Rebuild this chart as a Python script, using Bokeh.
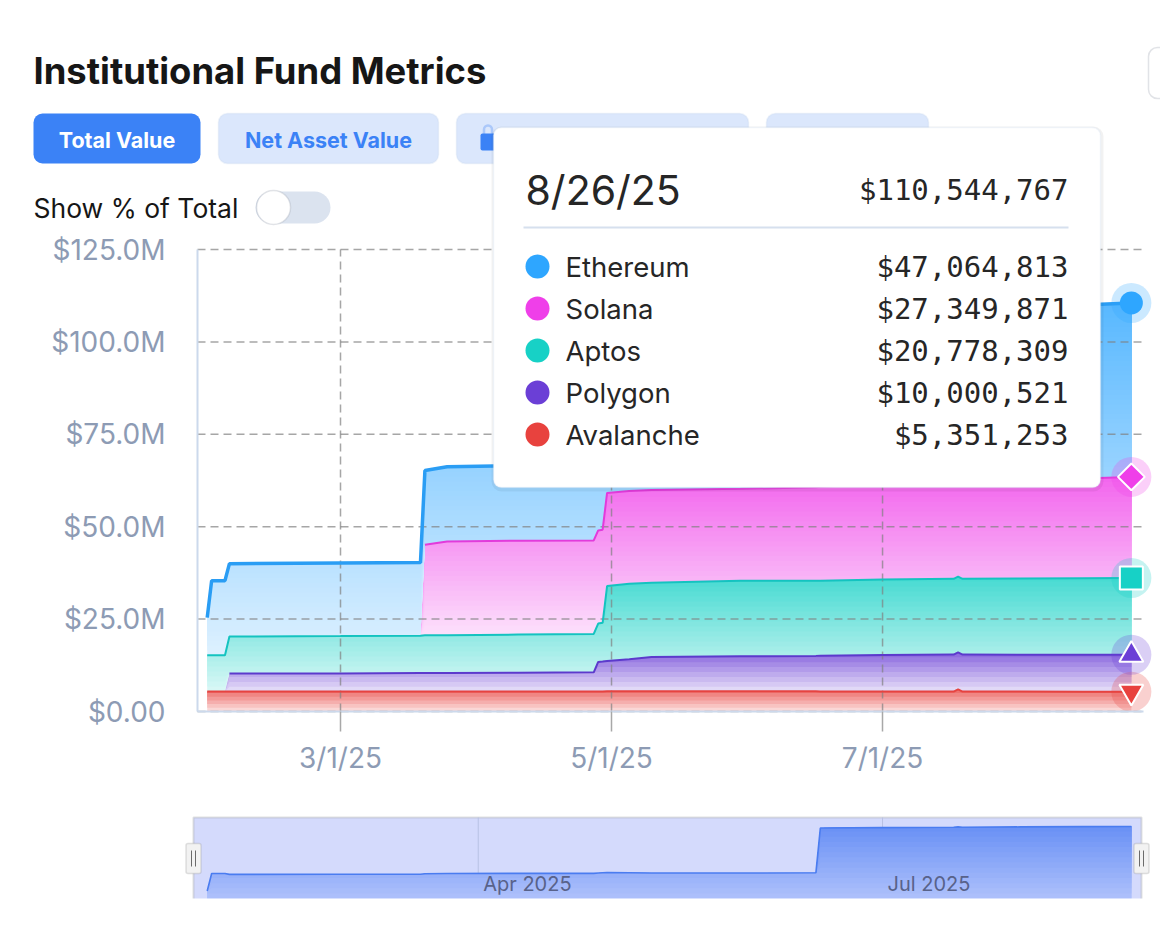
import numpy as np
import pandas as pd
from bokeh.plotting import figure
from bokeh.models import (ColumnDataSource, Range1d, FixedTicker, BoxAnnotation, Label, LabelSet,
                          LinearAxis, DatetimeAxis)
from bokeh.embed import file_html
from bokeh.resources import INLINE
from bokeh.core.properties import value

# ---------------- data (USD millions; None = series not yet present) ----------------
dates = ["2025-01-30", "2025-01-31", "2025-02-03", "2025-02-04", "2025-03-01",
         "2025-03-19", "2025-03-20", "2025-03-25", "2025-04-10", "2025-04-27",
         "2025-04-28", "2025-04-29", "2025-04-30", "2025-05-05", "2025-05-10",
         "2025-05-30", "2025-06-16", "2025-06-17", "2025-07-01", "2025-07-17",
         "2025-07-18", "2025-07-19", "2025-08-01", "2025-08-15", "2025-08-26"]
ethereum = [10.2, 20.2, 20.2, 19.7, 19.8, 19.8, 20.1, 20.2, 20.3, 20.3,
            20.5, 20.6, 20.7, 20.6, 20.5, 20.5, 20.6, 46.2, 46.4, 46.6,
            46.8, 46.6, 46.8, 46.95, 47.064813]
solana = [None, None, None, None, None, None, 24.5, 25.4, 25.4, 25.3,
          25.2, 25.2, 25.2, 25.1, 25.1, 24.9, 25.3, 25.4, 25.9, 26.2,
          26.2, 26.2, 26.6, 27.0, 27.349871]
aptos = [9.8, 9.8, 9.8, 10.0, 10.1, 10.1, 10.2, 10.2, 10.3, 10.4,
         10.4, 10.5, 20.3, 20.4, 20.1, 20.4, 20.3, 20.3, 20.4, 20.5,
         20.5, 20.5, 20.6, 20.7, 20.778309]
polygon = [None, None, None, 4.9, 4.9, 5.0, 5.0, 5.0, 5.1, 5.2,
           8.0, 8.1, 8.2, 8.7, 9.3, 9.5, 9.6, 9.7, 9.9, 10.0,
           10.0, 10.0, 10.0, 10.0, 10.000521]
avalanche = [5.4, 5.4, 5.4, 5.4, 5.4, 5.4, 5.4, 5.4, 5.4, 5.4,
             5.4, 5.4, 5.45, 5.45, 5.45, 5.45, 5.45, 5.4, 5.4, 5.4,
             6.0, 5.4, 5.38, 5.36, 5.351253]

series_names = ["Ethereum", "Solana", "Aptos", "Polygon", "Avalanche"]
series_values = [ethereum, solana, aptos, polygon, avalanche]
series_colors = ["#2ea6ff", "#ef3fe9", "#17d1c6", "#6b3fd6", "#e8423e"]
line_colors = ["#2a9df4", "#e23bdb", "#14c3c0", "#5c3acc", "#e64340"]
marker_types = ["circle", "diamond", "square", "triangle", "inverted_triangle"]

y_tick_values = [0, 25e6, 50e6, 75e6, 100e6, 125e6]
y_tick_labels = ["$0.00", "$25.0M", "$50.0M", "$75.0M", "$100.0M", "$125.0M"]
x_tick_dates = ["2025-03-01", "2025-05-01", "2025-07-01"]
x_tick_labels = ["3/1/25", "5/1/25", "7/1/25"]
nav_tick_dates = ["2025-04-01", "2025-07-01"]
nav_tick_labels = ["Apr 2025", "Jul 2025"]

# ---------------- helpers ----------------
def to_ms(s):
    return pd.Timestamp(s).value / 1e6

def hex_rgb(h):
    return tuple(int(h[i:i + 2], 16) for i in (1, 3, 5))

def blend(h, a):
    r, g, b = hex_rgb(h)
    return "#%02x%02x%02x" % tuple(int(round(c * a + 255 * (1 - a))) for c in (r, g, b))

def mix(h1, h2, t):
    a, b = hex_rgb(h1), hex_rgb(h2)
    return "#%02x%02x%02x" % tuple(int(round(x + (y - x) * t)) for x, y in zip(a, b))

dt = pd.to_datetime(dates).values
vals = {n: np.array([np.nan if v is None else v * 1e6 for v in arr]) for n, arr in zip(series_names, series_values)}
col = dict(zip(series_names, series_colors))
lcol = dict(zip(series_names, line_colors))
mtype = dict(zip(series_names, marker_types))

stack_order = ["Avalanche", "Polygon", "Aptos", "Solana", "Ethereum"]
lowers, uppers = {}, {}
base = np.zeros(len(dates))
for n in stack_order:
    v = np.nan_to_num(vals[n])
    lowers[n] = base.copy()
    uppers[n] = base + v
    base = base + v

# ---------------- layout geometry (page pixels) ----------------
W, H = 1160, 940
PXD = 4.443                       # px per day
REF_DAY, REF_X = pd.Timestamp("2025-03-01"), 340
Y0, PXM = 711, 462 / 125e6        # page y of $0, px per dollar
NY0, NPXM = 908.4, 1.752 / 1e6    # navigator: page y of $0, px per dollar

def day_at(X):
    return REF_DAY + pd.Timedelta(days=(X - REF_X) / PXD)

x_start, x_end = day_at(0), day_at(W)
x_left, x_right = day_at(197), day_at(1143)

p = figure(width=W, height=H, x_axis_type="datetime",
           x_range=Range1d(x_start, x_end),
           y_range=Range1d(-(H - Y0) / PXM, Y0 / PXM),
           x_axis_location=None, y_axis_location=None,
           toolbar_location=None, output_backend="svg", min_border=0)
p.outline_line_color = None
p.background_fill_color = "white"
p.border_fill_color = "white"
p.grid.visible = False
p.extra_y_ranges = {"nav": Range1d(-(H - NY0) / NPXM, NY0 / NPXM)}

AX_COL = "#8d9bb4"
yax = LinearAxis(ticker=FixedTicker(ticks=y_tick_values), fixed_location=to_ms(x_left),
                 bounds=(y_tick_values[0], y_tick_values[-1]))
yax.major_label_overrides = {v: l for v, l in zip(y_tick_values, y_tick_labels)}
yax.axis_line_color = "#ccd9ec"
yax.axis_line_width = 2
yax.major_tick_line_color = None
yax.minor_tick_line_color = None
yax.major_label_standoff = 26
yax.major_label_text_font = "Inter"
yax.major_label_text_font_size = "28px"
yax.major_label_text_color = AX_COL
p.add_layout(yax, "left")

x_ticks_ms = [to_ms(d) for d in x_tick_dates]
xax = DatetimeAxis(ticker=FixedTicker(ticks=x_ticks_ms), fixed_location=0,
                   bounds=(to_ms(x_left), to_ms(x_right)))
xax.major_label_overrides = {v: l for v, l in zip(x_ticks_ms, x_tick_labels)}
xax.axis_line_color = "#ccd9ec"
xax.axis_line_width = 2
xax.major_tick_out = 20
xax.major_tick_in = 0
xax.major_tick_line_color = "#a8a8a8"
xax.major_tick_line_width = 1.5
xax.minor_tick_line_color = None
xax.major_label_standoff = 9
xax.major_label_text_font = "Inter"
xax.major_label_text_font_size = "28px"
xax.major_label_text_color = AX_COL
p.add_layout(xax, "below")

# ---------------- stacked areas with vertical gradient (layered bands) ----------------
A_TOP, A_BOT = 0.8, 0.16
for n in stack_order:
    lo, up = lowers[n], uppers[n]
    ex = ~np.isnan(vals[n])
    top_v, bot_v = up[ex].max(), lo[ex].min()
    nl = max(6, int((top_v - bot_v) / 1.3e6))
    for k in range(nl):
        c = bot_v + (top_v - bot_v) * k / nl
        t = (k + 0.5) / nl
        a = A_BOT + (A_TOP - A_BOT) * t
        y1 = np.minimum(np.maximum(lo, c), up)
        p.varea(x=dt, y1=y1, y2=up, fill_color=blend(col[n], a), fill_alpha=1)

# dashed grid lines (at the tick values, over the translucent-looking fills)
ng = len(y_tick_values)
p.segment(x0=[x_left] * ng, y0=y_tick_values, x1=[x_right] * ng, y1=y_tick_values,
          line_color="#808080", line_alpha=0.7, line_width=1.5, line_dash="8 5")
nx = len(x_tick_dates)
p.segment(x0=pd.to_datetime(x_tick_dates).values, y0=[y_tick_values[0]] * nx,
          x1=pd.to_datetime(x_tick_dates).values, y1=[y_tick_values[-1]] * nx,
          line_color="#808080", line_alpha=0.7, line_width=1.5, line_dash="8 5")

for n in stack_order:
    yl = np.where(np.isnan(vals[n]), np.nan, uppers[n])
    p.line(dt, yl, line_color=lcol[n], line_width=3.5 if n == "Ethereum" else 2)

# hover markers at the last point
for n in stack_order:
    xs, ys = [dt[-1]], [uppers[n][-1]]
    p.scatter(xs, ys, marker="circle", size=40, fill_color=col[n], fill_alpha=0.25, line_color=None)
    if n == "Solana":
        p.scatter(xs, ys, marker="square", angle=np.pi / 4, size=19, fill_color=col[n],
                  line_color="white", line_width=2)
    elif n == "Ethereum":
        p.scatter(xs, ys, marker="circle", size=23, fill_color=col[n], line_color=None)
    else:
        p.scatter(xs, ys, marker=mtype[n], size=24 if n != "Aptos" else 23,
                  fill_color=col[n], line_color="white", line_width=2)

# ---------------- navigator (Ethereum series) ----------------
nav_top_val = (NY0 - 817) / NPXM
nav_bot_val = (NY0 - 905) / NPXM

def sx(X):
    return X

def sy(Y):
    return H - Y

def box(x0, x1, y0, y1, fill, line=None, lw=0, r=0, alpha=1.0, level="overlay"):
    p.add_layout(BoxAnnotation(left=sx(x0), right=sx(x1), top=sy(y0), bottom=sy(y1),
                               left_units="screen", right_units="screen",
                               top_units="screen", bottom_units="screen",
                               fill_color=fill, fill_alpha=alpha, line_color=line,
                               line_width=lw, border_radius=r, level=level))

box(193, 1141, 817, 905, "#d4dafc", line="#9c9c9c", lw=2, level="underlay")
nt = len(nav_tick_dates)
p.segment(x0=pd.to_datetime(nav_tick_dates).values, y0=[nav_bot_val] * nt,
          x1=pd.to_datetime(nav_tick_dates).values, y1=[nav_top_val] * nt,
          line_color="#b8c1e4", line_width=1, y_range_name="nav")

eth = vals["Ethereum"]
etop = np.nanmax(eth)
nl = 16
for k in range(nl):
    c = etop * k / nl
    t = (k + 0.5) / nl
    y1 = np.minimum(np.maximum(0, c), eth)
    p.varea(x=dt, y1=y1, y2=eth, fill_color=mix("#b9c8fc", "#6890f5", t), y_range_name="nav")
p.line(dt, eth, line_color="#4a7cf0", line_width=1.6, y_range_name="nav")

nav_src = ColumnDataSource(dict(x=pd.to_datetime(nav_tick_dates).values, text=nav_tick_labels))
p.add_layout(LabelSet(x="x", y=sy(883), y_units="screen", text="text", source=nav_src,
                      x_offset=5, text_baseline="middle", text_font=value("Inter"),
                      text_font_size="20px", text_color="#58628a"))

box(0, W, 898, H, "white")
for hx in (193, 1141):
    box(hx - 7.5, hx + 7.5, 843, 873, "#f2f2f2", line="#9c9c9c", lw=1.5, r=2)
    box(hx - 2.5, hx - 1.5, 850, 866, "#6b6b6b")
    box(hx + 1.5, hx + 2.5, 850, 866, "#6b6b6b")

# ---------------- page chrome ----------------
def text(X, Y, s, size, color="#1c1c1c", font="Inter", style="normal", align="left"):
    p.add_layout(Label(x=sx(X), y=sy(Y), x_units="screen", y_units="screen", text=s,
                       text_font=font, text_font_size=size, text_font_style=style,
                       text_color=color, text_align=align, text_baseline="middle", level="overlay"))

text(33, 70, "Institutional Fund Metrics", "36.4px", color="#161616", style="bold")
box(33, 200, 113, 163, "#3b82f6", r=9)
text(116.5, 139, "Total Value", "21.5px", color="white", style="bold", align="center")
box(218, 438, 113, 163, "#dbe7fc", line="#c6d6ef", lw=1.5, r=9)
text(328, 139, "Net Asset Value", "21.5px", color="#3b82f6", style="bold", align="center")
box(456, 748, 113, 163, "#dbe7fc", line="#c6d6ef", lw=1.5, r=9)
box(766, 928, 113, 163, "#dbe7fc", line="#c6d6ef", lw=1.5, r=9)
box(483.5, 491.5, 125, 138, None, line="#3b82f6", lw=2.5, r=4)
box(480, 497, 133, 150, "#3b82f6", r=2)
box(1148, 1175, 47, 98, "white", line="#9ca3af", lw=1.5, r=9)
text(33, 207, "Show % of Total", "26.5px", color="#161616")
box(255, 330, 191, 223, "#dbe3ef", r=16)
box(256, 290, 190, 224, "white", line="#9aa2ae", lw=1.5, r=17)

# tooltip
last_i = len(dates) - 1
last_date = pd.Timestamp(dates[last_i])
total = sum(vals[n][last_i] for n in series_names)
box(491, 1103, 126, 491, "#000000", r=10, alpha=0.05)
box(493, 1100, 127, 487, "white", line="#d3e1f1", lw=1.5, r=8)
text(525, 189, f"{last_date.month}/{last_date.day}/{last_date.year % 100}", "41px", color="#262626")
text(1068, 189, f"${int(round(total)):,}", "29px", color="#262626", font="DejaVu Sans Mono", align="right")
box(523, 1068, 226, 228, "#d6e0ee")
for i, n in enumerate(series_names):
    yy = 266 + 42 * i
    box(525, 549, yy - 12, yy + 12, col[n], r=12)
    text(565, yy, n, "27.5px", color="#262626")
    text(1068, yy, f"${int(round(vals[n][last_i])):,}", "29px", color="#262626",
         font="DejaVu Sans Mono", align="right")

open("out.html", "w").write(file_html(p, INLINE))
